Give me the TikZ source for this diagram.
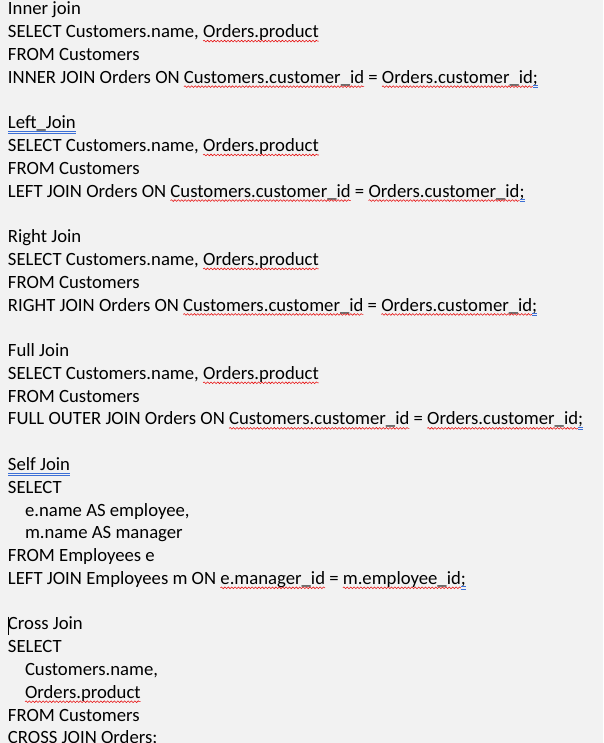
\documentclass[tikz,border=0pt]{standalone}
\usepackage{fontspec}
\setmainfont{Carlito}
\usetikzlibrary{decorations.pathmorphing}
\newcommand\docfont{\fontsize{18.7}{22.78}\selectfont}
\newcommand\sps{\ \kern0pt}
\definecolor{bgc}{HTML}{F2F2F2}
\definecolor{sqred}{HTML}{E81010}
\definecolor{gblue}{HTML}{3C6FD6}
\tikzset{
  txt/.style={inner sep=0pt, outer sep=0pt, anchor=base west, font=\docfont, text=black},
  squig/.style={draw=sqred, line width=0.55pt, decorate, decoration={snake, amplitude=0.85pt, segment length=3.4pt}},
  gram/.style={draw=gblue, line width=0.6pt}
}
\newcommand\sqline[1]{\draw[squig] ([yshift=-3.4pt]#1.base west) -- ([yshift=-3.4pt]#1.base east);}
\newcommand\gramline[1]{\draw[gram] ([yshift=-2.3pt]#1.base west) -- ([yshift=-2.3pt]#1.base east);
  \draw[gram] ([yshift=-4.5pt]#1.base west) -- ([yshift=-4.5pt]#1.base east);}
\begin{document}
\begin{tikzpicture}[x=1pt,y=-1pt]
\useasboundingbox (0,0) rectangle (604,743);
\clip (0,0) rectangle (604,743);
\fill[bgc] (0,0) rectangle (604,743);
\fill[white] (602.5,0) rectangle (604,743);

% ---- Inner join
\node[txt] (a0) at (8,14.9) {Inner join};
\node[txt] (a1) at (8,37.68) {SELECT Customers.name,\sps};
\node[txt] (a1b) at (a1.base east) {Orders.product};
\node[txt] (a2) at (8,60.46) {FROM Customers};
\node[txt] (a3) at (8,83.24) {INNER JOIN Orders ON\sps};
\node[txt] (a3b) at (a3.base east) {Customers.customer\_id};
\node[txt] (a3c) at (a3b.base east) {\ =\sps};
\node[txt] (a3d) at (a3c.base east) {Orders.customer\_id};
\node[txt] (a3e) at (a3d.base east) {;};
\sqline{a1b} \sqline{a3b} \sqline{a3d} \gramline{a3e}

% ---- Left join
\node[txt] (b0) at (8,128.8) {Left\_Join};
\node[txt] (b1) at (8,151.58) {SELECT Customers.name,\sps};
\node[txt] (b1b) at (b1.base east) {Orders.product};
\node[txt] (b2) at (8,174.36) {FROM Customers};
\node[txt] (b3) at (8,197.14) {LEFT JOIN Orders ON\sps};
\node[txt] (b3b) at (b3.base east) {Customers.customer\_id};
\node[txt] (b3c) at (b3b.base east) {\ =\sps};
\node[txt] (b3d) at (b3c.base east) {Orders.customer\_id};
\node[txt] (b3e) at (b3d.base east) {;};
\gramline{b0} \sqline{b1b} \sqline{b3b} \sqline{b3d} \gramline{b3e}

% ---- Right join
\node[txt] (c0) at (8,242.7) {Right Join};
\node[txt] (c1) at (8,265.48) {SELECT Customers.name,\sps};
\node[txt] (c1b) at (c1.base east) {Orders.product};
\node[txt] (c2) at (8,288.26) {FROM Customers};
\node[txt] (c3) at (8,311.04) {RIGHT JOIN Orders ON\sps};
\node[txt] (c3b) at (c3.base east) {Customers.customer\_id};
\node[txt] (c3c) at (c3b.base east) {\ =\sps};
\node[txt] (c3d) at (c3c.base east) {Orders.customer\_id};
\node[txt] (c3e) at (c3d.base east) {;};
\sqline{c1b} \sqline{c3b} \sqline{c3d} \gramline{c3e}

% ---- Full join
\node[txt] (d0) at (8,356.6) {Full Join};
\node[txt] (d1) at (8,379.38) {SELECT Customers.name,\sps};
\node[txt] (d1b) at (d1.base east) {Orders.product};
\node[txt] (d2) at (8,402.16) {FROM Customers};
\node[txt] (d3) at (8,424.94) {FULL OUTER JOIN Orders ON\sps};
\node[txt] (d3b) at (d3.base east) {Customers.customer\_id};
\node[txt] (d3c) at (d3b.base east) {\ =\sps};
\node[txt] (d3d) at (d3c.base east) {Orders.customer\_id};
\node[txt] (d3e) at (d3d.base east) {;};
\sqline{d1b} \sqline{d3b} \sqline{d3d} \gramline{d3e}

% ---- Self join
\node[txt] (e0) at (8,470.5) {Self Join};
\node[txt] (e1) at (8,493.28) {SELECT};
\node[txt] (e2) at (25,516.06) {e.name AS employee,};
\node[txt] (e3) at (25,538.84) {m.name AS manager};
\node[txt] (e4) at (8,561.62) {FROM Employees e};
\node[txt] (e5) at (8,584.4) {LEFT JOIN Employees m ON\sps};
\node[txt] (e5b) at (e5.base east) {e.manager\_id};
\node[txt] (e5c) at (e5b.base east) {\ =\sps};
\node[txt] (e5d) at (e5c.base east) {m.employee\_id};
\node[txt] (e5e) at (e5d.base east) {;};
\gramline{e0} \sqline{e5b} \sqline{e5d} \gramline{e5e}

% ---- Cross join
\node[txt] (f0) at (8,629.96) {Cross Join};
\node[txt] (f1) at (8,652.74) {SELECT};
\node[txt] (f2) at (25,675.52) {Customers.name,};
\node[txt] (f3) at (25,698.3) {Orders.product};
\node[txt] (f4) at (8,721.08) {FROM Customers};
\node[txt] (f5) at (8,743.86) {CROSS JOIN Orders;};
\sqline{f3}
\coordinate (cur1) at (8.3,616.5);
\coordinate (cur2) at (8.3,635);
\draw[line width=0.7pt] (cur1) -- (cur2);
\end{tikzpicture}
\end{document}
